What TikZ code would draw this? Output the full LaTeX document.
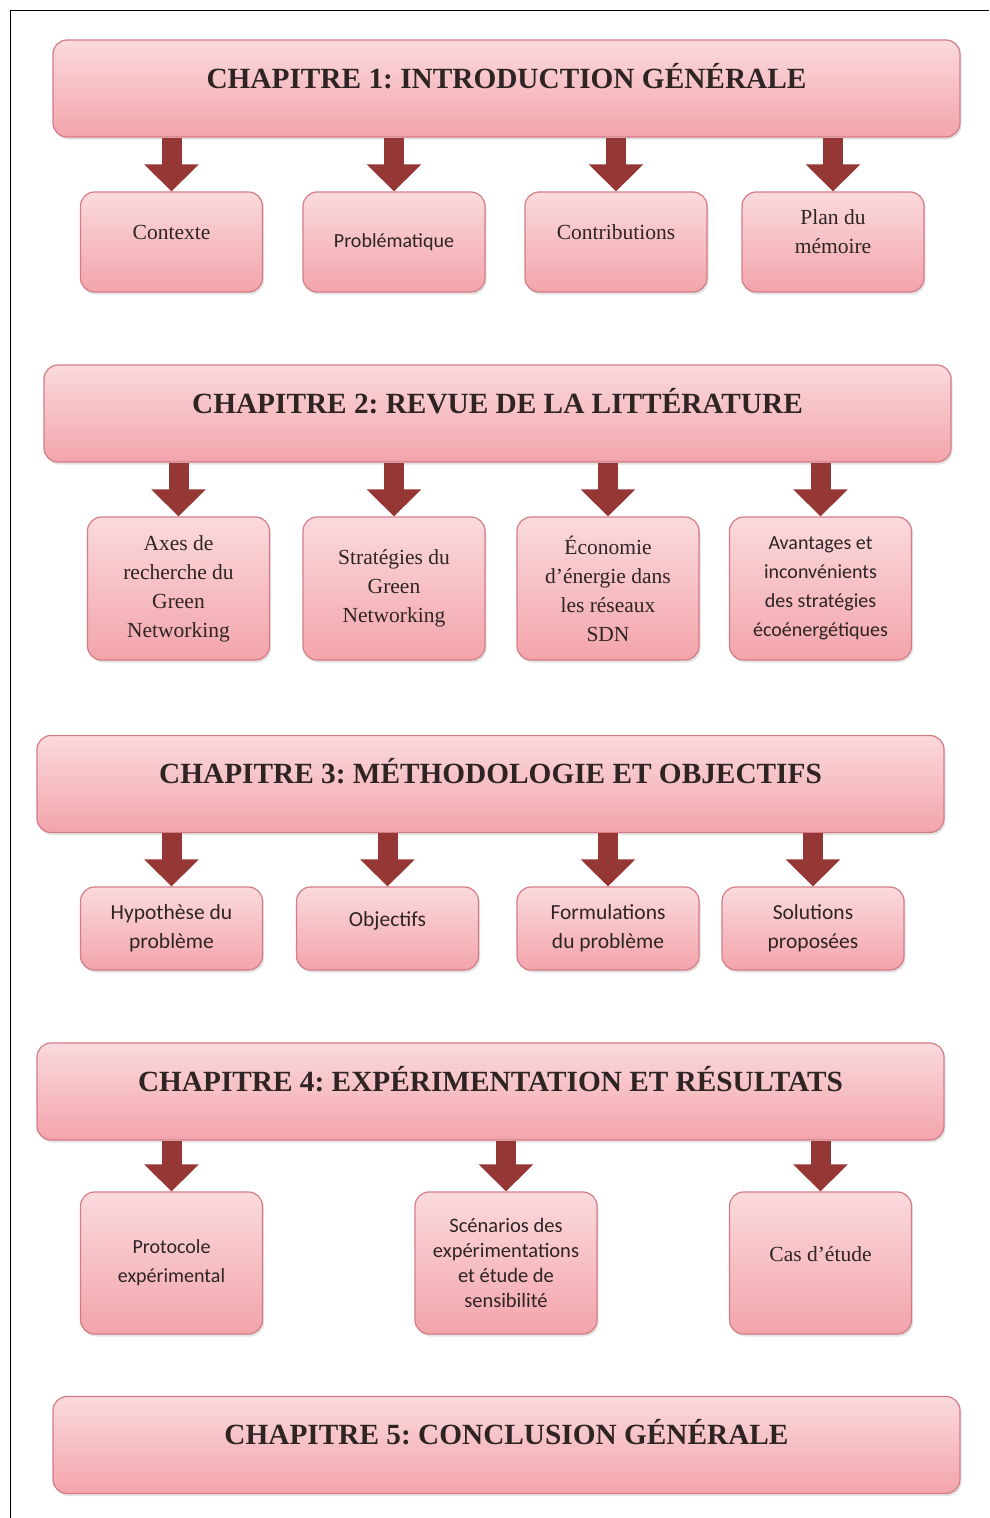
\documentclass[tikz,border=0pt]{standalone}
\usepackage{fontspec}
\setmainfont{Liberation Serif}
\newfontfamily\calib{Carlito}
\frenchspacing
\usetikzlibrary{arrows.meta,shadows}
\definecolor{pinktop}{HTML}{FADADD}
\definecolor{pinkbot}{HTML}{F3A4AB}
\definecolor{pinkline}{HTML}{D47C86}
\definecolor{arrowc}{HTML}{953735}
\definecolor{txt}{HTML}{2E2424}
\newcommand{\chaptxt}[1]{\raisebox{8pt}{#1}\\[-12pt]}
\tikzset{
  box/.style={draw=pinkline, line width=1.2pt, rounded corners=14pt,
    top color=pinktop, bottom color=pinkbot, text=txt, align=center,
    drop shadow={opacity=0.22, shadow xshift=1.5pt, shadow yshift=-2.5pt}},
  chap/.style={box, minimum width=907pt, minimum height=97pt,
    font=\fontsize{29.3}{30}\selectfont\bfseries},
  sub/.style={box, minimum width=182pt, inner sep=4pt},
  serif/.style={font=\fontsize{21.5}{29}\selectfont},
  sans/.style={font=\calib\fontsize{20}{29}\selectfont},
  sansb/.style={font=\calib\fontsize{21.5}{29.5}\selectfont},
  arr/.style={draw=arrowc, line width=20pt, -{Triangle[length=27pt,width=53pt]}}
}
\begin{document}
\begin{tikzpicture}[x=1pt,y=-1pt]
\useasboundingbox (0,0) rectangle (989,1518);
\fill[white] (0,0) rectangle (989,1518);
\draw[line width=1pt] (10,1518) -- (10,10) -- (989,10);

% Chapter 1
\node[chap] (c1) at (506.5,88.5) {\chaptxt{CHAPITRE 1: INTRODUCTION GÉNÉRALE}};
\node[sub, serif, minimum height=100pt] (s11) at (171.5,242) {Contexte\\[-9pt]};
\node[sub, sans,  minimum height=100pt] (s12) at (394,242) {Problématique};
\node[sub, serif, minimum height=100pt] (s13) at (616,242) {Contributions\\[-9pt]};
\node[sub, serif, minimum height=100pt] (s14) at (833,242) {Plan du\\mémoire\\[-8pt]};

% Chapter 2
\node[chap] (c2) at (497.5,413.5) {\chaptxt{CHAPITRE 2: REVUE DE LA LITTÉRATURE}};
\node[sub, serif, minimum height=143pt] (s21) at (178.5,588.5) {Axes de\\recherche du\\Green\\Networking};
\node[sub, serif, minimum height=143pt] (s22) at (394,588.5) {Stratégies du\\Green\\Networking};
\node[sub, serif, minimum height=143pt] (s23) at (608,588.5) {Économie\\d'énergie dans\\les réseaux\\SDN};
\node[sub, sans,  minimum height=143pt] (s24) at (820.5,588.5) {Avantages et\\inconvénients\\des stratégies\\écoénergétiques};

% Chapter 3
\node[chap] (c3) at (490.5,784) {\chaptxt{CHAPITRE 3: MÉTHODOLOGIE ET OBJECTIFS}};
\node[sub, sansb, minimum height=83pt] (s31) at (171.5,928.5) {Hypothèse du\\problème};
\node[sub, sansb, minimum height=83pt] (s32) at (387.5,928.5) {Objectifs\\[-10pt]};
\node[sub, sansb, minimum height=83pt] (s33) at (608,928.5) {Formulations\\du problème};
\node[sub, sansb, minimum height=83pt] (s34) at (813,928.5) {Solutions\\proposées};

% Chapter 4
\node[chap] (c4) at (490.5,1091.5) {\chaptxt{CHAPITRE 4: EXPÉRIMENTATION ET RÉSULTATS}};
\node[sub, sans, minimum height=142pt] (s41) at (171.5,1263) {Protocole\\expérimental};
\node[sub, sans, minimum height=142pt, font=\calib\fontsize{20.5}{25}\selectfont] (s42) at (506,1263) {Scénarios des\\expérimentations\\et étude de\\sensibilité};
\node[sub, serif, minimum height=142pt] (s43) at (820.5,1263) {Cas d'étude\\[-11pt]};

% Chapter 5
\node[chap] (c5) at (506.5,1445) {\chaptxt{CHAPITRE 5: CONCLUSION GÉNÉRALE}};

% Arrows
\foreach \c/\s in {c1/s11,c1/s12,c1/s13,c1/s14,c2/s21,c2/s22,c2/s23,c2/s24,c3/s31,c3/s32,c3/s33,c3/s34,c4/s41,c4/s42,c4/s43}
  \draw[arr] (\c.south -| \s.north) -- (\s.north);
\end{tikzpicture}
\end{document}
